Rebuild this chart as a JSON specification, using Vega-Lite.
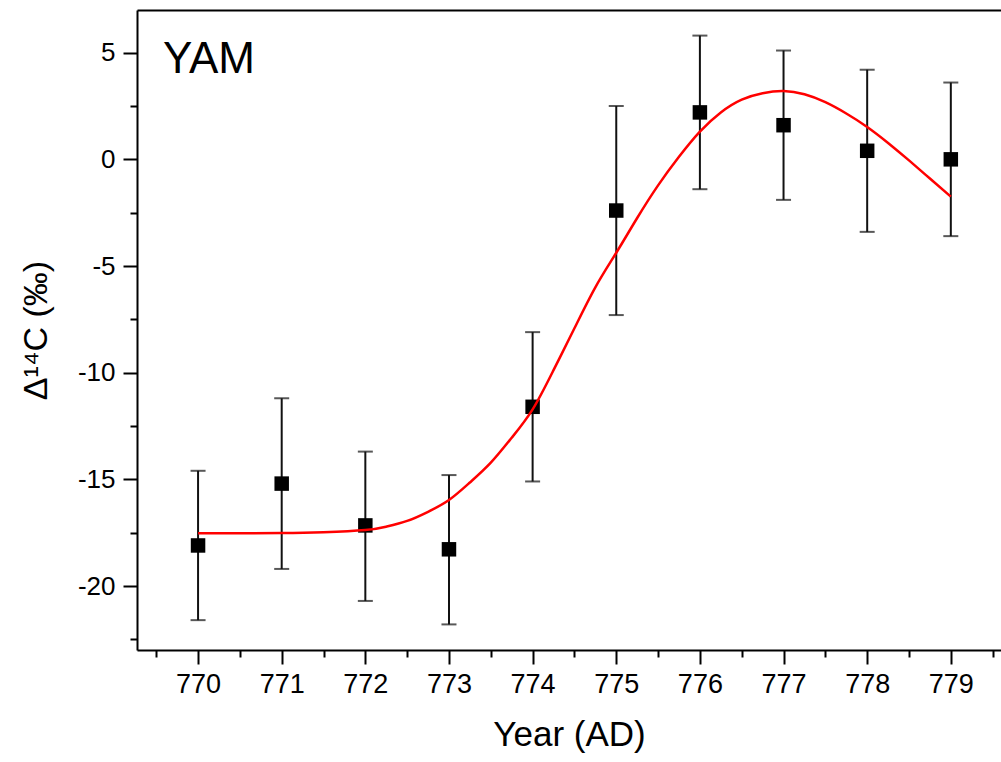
{
  "$schema": "https://vega.github.io/schema/vega-lite/v6.json",
  "width": 864,
  "height": 640,
  "autosize": "none",
  "padding": {"left": 137, "top": 10, "right": 0, "bottom": 112},
  "background": "white",
  "config": {
    "view": {"stroke": null},
    "font": "Liberation Sans",
    "axis": {
      "labelFont": "Liberation Sans",
      "titleFont": "Liberation Sans",
      "labelColor": "black",
      "titleColor": "black",
      "domainColor": "black",
      "tickColor": "black",
      "domainWidth": 2,
      "tickWidth": 2,
      "grid": false,
      "titleFontWeight": "normal"
    }
  },
  "datasets": {
    "points": [
      {"year": 770, "val": -18.1, "lo": -21.6, "hi": -14.6},
      {"year": 771, "val": -15.2, "lo": -19.2, "hi": -11.2},
      {"year": 772, "val": -17.16, "lo": -20.7, "hi": -13.7},
      {"year": 773, "val": -18.28, "lo": -21.8, "hi": -14.8},
      {"year": 774, "val": -11.6, "lo": -15.1, "hi": -8.1},
      {"year": 775, "val": -2.4, "lo": -7.3, "hi": 2.5},
      {"year": 776, "val": 2.2, "lo": -1.4, "hi": 5.8},
      {"year": 777, "val": 1.6, "lo": -1.9, "hi": 5.1},
      {"year": 778, "val": 0.4, "lo": -3.4, "hi": 4.2},
      {"year": 779, "val": 0.0, "lo": -3.6, "hi": 3.6}
    ],
    "fit": [
      {"year": 770, "val": -17.53},
      {"year": 770.5, "val": -17.53},
      {"year": 771, "val": -17.52},
      {"year": 771.5, "val": -17.48},
      {"year": 772, "val": -17.38},
      {"year": 772.25, "val": -17.22},
      {"year": 772.5, "val": -16.95},
      {"year": 772.75, "val": -16.52},
      {"year": 773, "val": -15.97},
      {"year": 773.25, "val": -15.15},
      {"year": 773.5, "val": -14.22},
      {"year": 773.75, "val": -13.05},
      {"year": 774, "val": -11.72},
      {"year": 774.25, "val": -9.88},
      {"year": 774.5, "val": -7.92},
      {"year": 774.75, "val": -6.0},
      {"year": 775, "val": -4.38},
      {"year": 775.25, "val": -2.75},
      {"year": 775.5, "val": -1.22},
      {"year": 775.75, "val": 0.12},
      {"year": 776, "val": 1.3},
      {"year": 776.25, "val": 2.2},
      {"year": 776.5, "val": 2.8},
      {"year": 776.75, "val": 3.1},
      {"year": 777, "val": 3.2},
      {"year": 777.25, "val": 3.05},
      {"year": 777.5, "val": 2.68},
      {"year": 777.75, "val": 2.15},
      {"year": 778, "val": 1.52},
      {"year": 778.25, "val": 0.77},
      {"year": 778.5, "val": -0.05},
      {"year": 778.75, "val": -0.9},
      {"year": 779, "val": -1.75}
    ]
  },
  "layer": [
    {
      "data": {"name": "points"},
      "mark": {"type": "errorbar", "color": "#111111", "thickness": 2, "ticks": {"size": 15, "thickness": 2, "color": "#111111"}},
      "encoding": {
        "x": {
          "field": "year", "type": "quantitative",
          "scale": {"domain": [769.27, 779.6], "nice": false, "zero": false},
          "axis": {
            "orient": "bottom",
            "values": [769.5, 770, 770.5, 771, 771.5, 772, 772.5, 773, 773.5, 774, 774.5, 775, 775.5, 776, 776.5, 777, 777.5, 778, 778.5, 779, 779.5],
            "labelExpr": "datum.value % 1 === 0 ? '' + datum.value : ''",
            "tickSize": {"condition": {"test": "datum.value % 1 !== 0", "value": 7}, "value": 14},
            "labelFontSize": 27,
            "labelPadding": 7,
            "labelFlush": false,
            "labelOverlap": false,
            "title": "Year (AD)",
            "titleFontSize": 35,
            "titlePadding": 20
          }
        },
        "y": {
          "field": "lo", "type": "quantitative",
          "scale": {"domain": [-23, 7], "nice": false, "zero": false},
          "title": "Δ¹⁴C (‰)"
        },
        "y2": {"field": "hi"}
      }
    },
    {
      "data": {"name": "points"},
      "mark": {"type": "square", "size": 210, "color": "black", "opacity": 1, "filled": true},
      "encoding": {
        "x": {"field": "year", "type": "quantitative", "scale": {"domain": [769.27, 779.6], "nice": false, "zero": false}, "axis": null},
        "y": {
          "field": "val", "type": "quantitative",
          "scale": {"domain": [-23, 7], "nice": false, "zero": false},
          "title": "Δ¹⁴C (‰)",
          "axis": {
            "values": [-22.5, -20, -17.5, -15, -12.5, -10, -7.5, -5, -2.5, 0, 2.5, 5],
            "labelExpr": "datum.value % 5 === 0 ? '' + datum.value : ''",
            "tickSize": {"condition": {"test": "datum.value % 5 !== 0", "value": 7}, "value": 14},
            "labelFontSize": 26,
            "labelPadding": 8,
            "labelFlush": false,
            "labelOverlap": false,
            "titleFontSize": 34,
            "titlePadding": 24
          }
        }
      }
    },
    {
      "data": {"name": "fit"},
      "mark": {"type": "line", "color": "#ff0000", "strokeWidth": 2.5, "interpolate": "natural"},
      "encoding": {
        "x": {
          "field": "year", "type": "quantitative",
          "scale": {"domain": [769.27, 779.6], "nice": false, "zero": false},
          "axis": {"orient": "top", "ticks": false, "labels": false, "title": null, "domain": true}
        },
        "y": {"field": "val", "type": "quantitative", "scale": {"domain": [-23, 7], "nice": false, "zero": false}, "title": "Δ¹⁴C (‰)"}
      }
    },
    {
      "data": {"values": [{}]},
      "mark": {"type": "text", "text": "YAM", "fontSize": 44, "align": "left", "baseline": "alphabetic", "color": "black", "font": "Liberation Sans"},
      "encoding": {
        "x": {"datum": 769.58, "type": "quantitative", "scale": {"domain": [769.27, 779.6], "nice": false, "zero": false}, "axis": null},
        "y": {"datum": 4.05, "type": "quantitative", "scale": {"domain": [-23, 7], "nice": false, "zero": false}, "title": "Δ¹⁴C (‰)"}
      }
    }
  ],
  "resolve": {"axis": {"x": "independent"}}
}
